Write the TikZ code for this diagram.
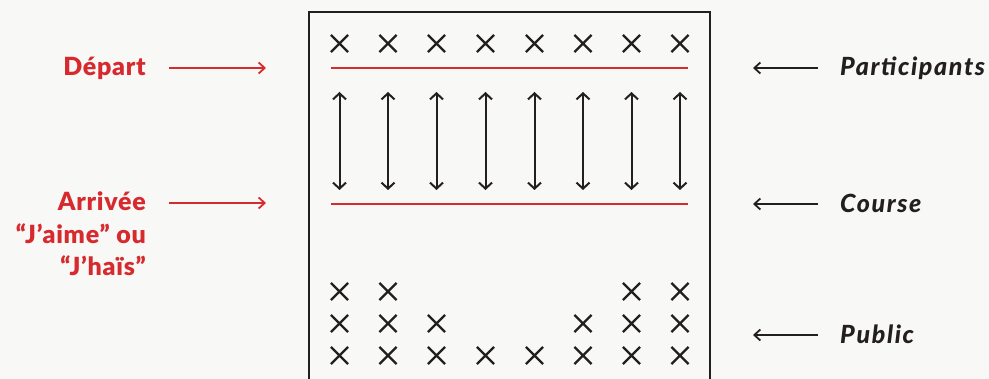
\documentclass[tikz,border=0pt]{standalone}
\usepackage{fontspec}
\setmainfont{Lato}[BoldFont={Lato Black},BoldItalicFont={Lato Black Italic},
  BoldFeatures={LetterSpace=3},BoldItalicFeatures={LetterSpace=6.5}]
\usepackage{xcolor}
\usepackage{tikz}
\usetikzlibrary{arrows.meta,positioning,shapes.misc}

\definecolor{rouge}{HTML}{D72A2E}
\definecolor{encre}{HTML}{231F20}
\definecolor{papier}{HTML}{F8F8F7}

\tikzset{
  croix/.style={cross out,draw=encre,line width=2.2pt,minimum size=15pt,inner sep=0pt},
  fleche/.style={line width=2pt,encre,{Straight Barb[length=6pt,width=13pt]}-{Straight Barb[length=6pt,width=13pt]}},
  ligne/.style={line width=2.4pt,rouge},
  renvoi/.style={line width=1.8pt,-{Straight Barb[length=6pt,width=11pt]}},
  etiq/.style={font=\fontsize{25}{28}\selectfont\bfseries,inner sep=0pt},
  etiqi/.style={font=\fontsize{25}{28}\selectfont\bfseries\itshape,inner sep=0pt},
}

\begin{document}
\begin{tikzpicture}[x=1pt,y=-1pt]
  \useasboundingbox[fill=papier] (0,0) rectangle (989,379);
  \draw[encre,line width=2pt] (309,12.5) rectangle (710,400);
  % participants
  \foreach \i/\x in {1/339.5,2/388,3/436.5,4/485.5,5/534.5,6/583,7/631.5,8/680}{
    \node[croix] (p\i) at (\x,43.5) {};
    \coordinate (h\i) at (\x,92);
    \coordinate (b\i) at (\x,190);
    \draw[fleche] (h\i) -- (b\i);
  }
  % public
  \foreach \i/\x in {1/339.5,2/388,7/631.5,8/680}
    \node[croix] (pa\i) at (\x,291.5) {};
  \foreach \i/\x in {1/339.5,2/388,3/436.5,6/583,7/631.5,8/680}
    \node[croix] (pb\i) at (\x,323.5) {};
  \foreach \i/\x in {1/339.5,2/388,3/436.5,4/485.5,5/534.5,6/583,7/631.5,8/680}
    \node[croix] (pc\i) at (\x,355.5) {};
  % depart et arrivee
  \coordinate (dg) at (331,68);
  \coordinate (dd) at (688,68);
  \coordinate (ag) at (331,204);
  \coordinate (ad) at (688,204);
  \draw[ligne] (dg) -- (dd);
  \draw[ligne] (ag) -- (ad);
  % legendes gauche
  \node[etiq,rouge,anchor=base east] (dep) at (146,75.7) {Départ};
  \node[etiq,rouge,anchor=base east] (arr) at (146,211) {Arrivée};
  \node[etiq,rouge,anchor=base east] (aime) at (146,243.3) {“J’aime” ou};
  \node[etiq,rouge,anchor=base east] (hais) at (146,275.6) {“J’haïs”};
  \coordinate (dep1) at (169,68);
  \coordinate (dep2) at (266,68);
  \coordinate (arr1) at (169,203);
  \coordinate (arr2) at (266,203);
  \draw[renvoi,rouge] (dep1) -- (dep2);
  \draw[renvoi,rouge] (arr1) -- (arr2);
  % legendes droite
  \node[etiqi,encre,anchor=base west] (par) at (840,76) {Participants};
  \node[etiqi,encre,anchor=base west] (cou) at (840,212.5) {Course};
  \node[etiqi,encre,anchor=base west] (pub) at (840,343.5) {Public};
  \coordinate (par1) at (818,68);
  \coordinate (par2) at (753,68);
  \coordinate (cou1) at (818,204);
  \coordinate (cou2) at (753,204);
  \coordinate (pub1) at (818,335);
  \coordinate (pub2) at (753,335);
  \draw[renvoi,encre] (par1) -- (par2);
  \draw[renvoi,encre] (cou1) -- (cou2);
  \draw[renvoi,encre] (pub1) -- (pub2);
\end{tikzpicture}
\end{document}
